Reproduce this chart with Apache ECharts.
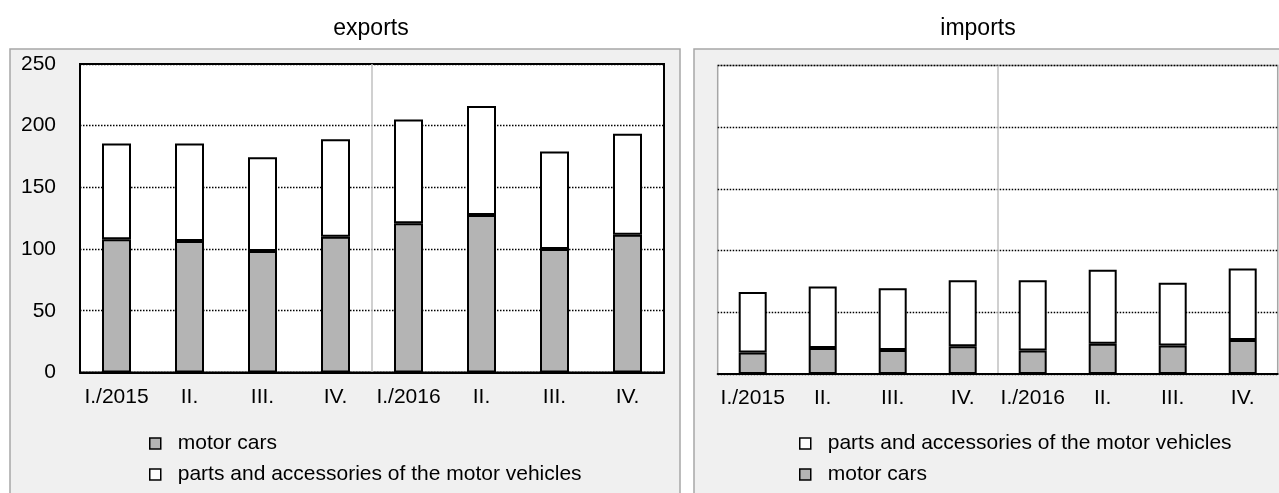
<!DOCTYPE html>
<html>
<head>
<meta charset="utf-8">
<script src="https://cdn.jsdelivr.net/npm/echarts@6/dist/echarts.min.js"></script>
<style>
html, body { margin: 0; padding: 0; background: #ffffff; }
#chart { width: 1279px; height: 493px; }
</style>
</head>
<body>
<div id="chart"></div>
<script>
const categories = ['I./2015', 'II.', 'III.', 'IV.', 'I./2016', 'II.', 'III.', 'IV.'];
const seriesNames = ['motor cars', 'parts and accessories of the motor vehicles'];
const exportsCars = [108, 106.5, 98.5, 110, 121, 127.5, 100, 111.5];
const exportsParts = [77.5, 79, 76, 79, 84, 88.5, 79, 82];
const importsCars = [17.5, 21, 19.5, 22.5, 19, 24.5, 23, 27.5];
const importsParts = [49, 50, 50, 53.5, 57, 60, 51, 58];
const yMin = 0, yMax = 250, yStep = 50;
const panelTitles = ['exports', 'imports'];

const FONT = "'Liberation Sans', Arial, sans-serif";
const GRAY = '#b4b4b4';

const chart = echarts.init(document.getElementById('chart'));

function xAxisFor(gridIndex) {
  return {
    type: 'category', gridIndex: gridIndex, data: categories,
    axisLine: { show: true, lineStyle: { color: '#000', width: 2 } },
    axisTick: { show: false },
    axisLabel: { color: '#000', fontSize: 21, fontFamily: FONT, margin: 14, interval: 0 },
    splitLine: { show: true, interval: function (idx) { return idx % 4 === 0; },
      showMinLine: false, showMaxLine: false,
      lineStyle: { color: '#c0c0c0', width: 1.5, type: 'solid' } }
  };
}
function yAxisFor(gridIndex, showLabels) {
  return {
    type: 'value', gridIndex: gridIndex, min: yMin, max: yMax, interval: yStep,
    axisLine: { show: showLabels, lineStyle: { color: '#000', width: 2 } },
    axisTick: { show: false },
    axisLabel: { show: showLabels, color: '#000', fontSize: 21, fontFamily: FONT, margin: 24 },
    splitLine: { show: true, lineStyle: { color: '#000', width: 1.4, type: [1.5, 1.5] } }
  };
}
function barSeries(name, data, xi, stack, color, bw) {
  return {
    type: 'bar', name: name, data: data, stack: stack,
    xAxisIndex: xi, yAxisIndex: xi, barWidth: bw,
    itemStyle: { color: color, borderColor: '#000', borderWidth: 2 },
    emphasis: { disabled: true }, silent: true
  };
}

const legendCommon = {
  orient: 'vertical', icon: 'rect', itemWidth: 11, itemHeight: 11, itemGap: 10,
  padding: 0, height: 60,
  selectedMode: false,
  itemStyle: { borderColor: '#000', borderWidth: 1.5 },
  textStyle: { color: '#000', fontSize: 21, fontFamily: FONT, lineHeight: 21, padding: [0, 0, 0, 12] }
};

chart.setOption({
  animation: false,
  backgroundColor: '#ffffff',
  graphic: [
    { type: 'rect', z: -10, shape: { x: 10, y: 49, width: 670, height: 470 },
      style: { fill: '#f0f0f0', stroke: '#a6a6a6', lineWidth: 1.5 }, silent: true },
    { type: 'rect', z: -10, shape: { x: 694, y: 49, width: 620, height: 470 },
      style: { fill: '#f0f0f0', stroke: '#a6a6a6', lineWidth: 1.5 }, silent: true }
  ],
  title: [
    { text: panelTitles[0], left: 371, top: 17, textAlign: 'center', padding: 0,
      textStyle: { color: '#000', fontSize: 23, fontWeight: 'normal', fontFamily: FONT } },
    { text: panelTitles[1], left: 978, top: 17, textAlign: 'center', padding: 0,
      textStyle: { color: '#000', fontSize: 23, fontWeight: 'normal', fontFamily: FONT } }
  ],
  legend: [
    Object.assign({}, legendCommon, { left: 149, top: 433, data: [seriesNames[0], seriesNames[1]] }),
    Object.assign({}, legendCommon, { left: 799, top: 433, data: [seriesNames[1], seriesNames[0]] })
  ],
  grid: [
    { left: 80, top: 64, width: 584, height: 308.4, show: true, backgroundColor: '#ffffff',
      borderColor: '#000', borderWidth: 2, containLabel: false },
    { left: 717.7, top: 65.5, width: 560, height: 308.5, show: true, backgroundColor: '#ffffff',
      borderColor: '#a6a6a6', borderWidth: 1.5, containLabel: false }
  ],
  xAxis: [xAxisFor(0), xAxisFor(1)],
  yAxis: [yAxisFor(0, true), yAxisFor(1, false)],
  series: [
    barSeries(seriesNames[0], exportsCars, 0, 'e', GRAY, 29),
    barSeries(seriesNames[1], exportsParts, 0, 'e', '#ffffff', 29),
    barSeries(seriesNames[0], importsCars, 1, 'i', GRAY, 28),
    barSeries(seriesNames[1], importsParts, 1, 'i', '#ffffff', 28)
  ]
});
</script>
</body>
</html>
